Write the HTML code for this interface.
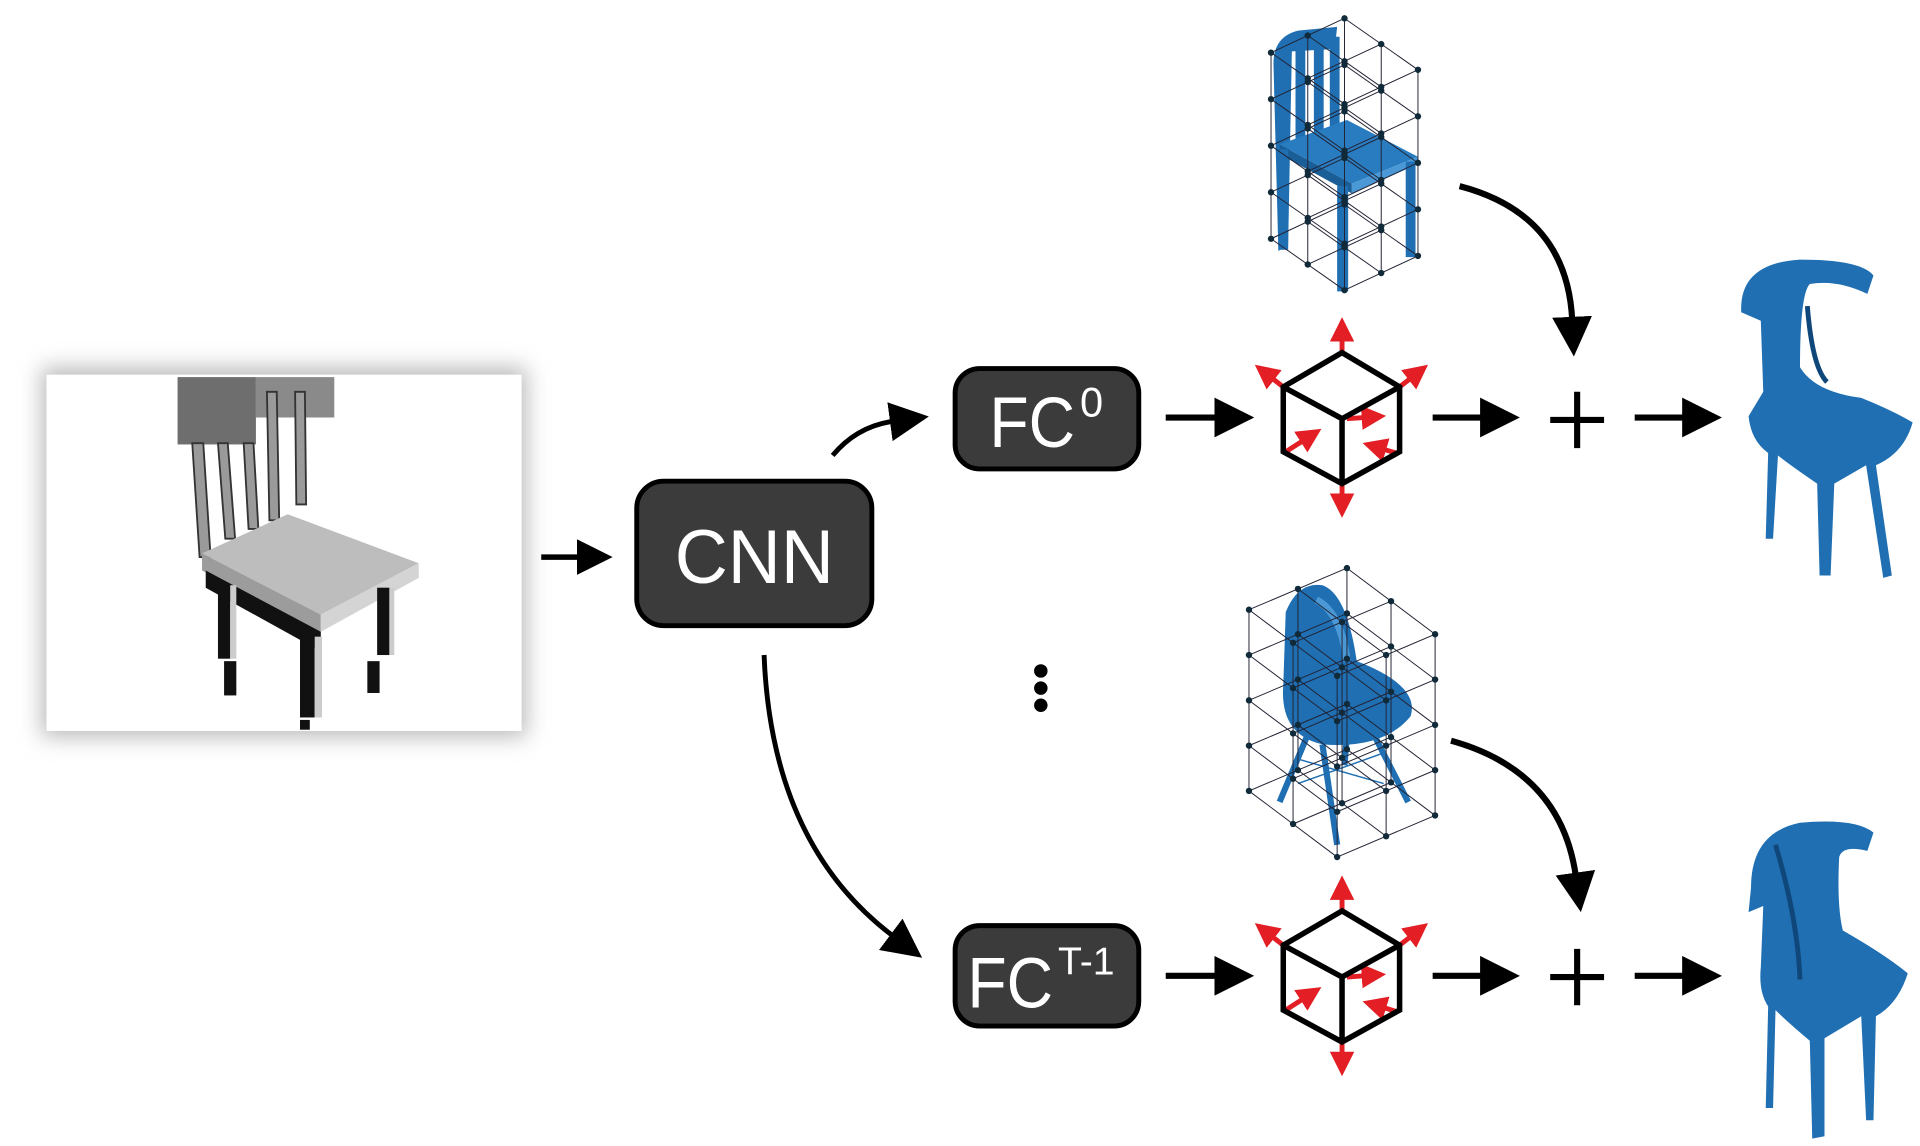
<!DOCTYPE html>
<html><head><meta charset="utf-8"><style>
html,body{margin:0;padding:0;background:#fff;}
svg{display:block}
</style></head><body>
<svg width="1920" height="1146" viewBox="0 0 1568 936" preserveAspectRatio="none" xmlns="http://www.w3.org/2000/svg">
<defs>
<filter id="sh" x="-20%" y="-20%" width="140%" height="140%"><feGaussianBlur stdDeviation="9"/></filter>
<marker id="ah" viewBox="0 0 10 10" refX="1" refY="5" markerWidth="6.5" markerHeight="6.5" orient="auto" markerUnits="strokeWidth"><path d="M0,0L10,5L0,10z" fill="#000"/></marker>
<marker id="ah2" viewBox="0 0 10 10" refX="1" refY="5" markerWidth="8" markerHeight="8" orient="auto" markerUnits="strokeWidth"><path d="M0,0L10,5L0,10z" fill="#000"/></marker>
<marker id="rh" viewBox="0 0 10 10" refX="1" refY="5" markerWidth="5" markerHeight="5" orient="auto" markerUnits="strokeWidth"><path d="M0,0L10,5L0,10z" fill="#e31e24"/></marker>
<g id="cube">
<g stroke="#e31e24" stroke-width="4" fill="none" marker-end="url(#rh)">
<path d="M0,-53 L0,-64"/>
<path d="M-48,-25 L-57,-32"/>
<path d="M47,-25 L56,-32"/>
<path d="M0,54 L0,64"/>
<path d="M4,1 L18,0"/>
<path d="M-46,28 L-32,19"/>
<path d="M44,29 L34,26"/>
</g>
<g stroke="#000" stroke-width="4.5" fill="none" stroke-linejoin="miter">
<path d="M0,-53 L47,-25 L47,28 L0,54 L-48,28 L-48,-25 Z"/>
<path d="M-48,-25 L0,1 L47,-25 M0,1 L0,54"/>
</g>
</g>
</defs>

<!-- photo -->
<rect x="34" y="300" width="396" height="302" fill="#bbb" filter="url(#sh)"/>
<rect x="38" y="306" width="388" height="291" fill="#fff"/>
<g>
<rect x="145" y="308" width="64" height="55" fill="#6e6e6e"/>
<rect x="209" y="308" width="64" height="33" fill="#8a8a8a"/>
<g fill="#9a9a9a" stroke="#333" stroke-width="1.5">
<path d="M157,362 L166,362 L172,455 L163,455Z"/>
<path d="M178,362 L186,362 L192,440 L184,440Z"/>
<path d="M199,362 L207,362 L211,432 L203,432Z"/>
<path d="M218,320 L226,320 L228,425 L220,425Z"/>
<path d="M241,320 L249,320 L250,412 L242,412Z"/>
</g>
<path d="M165,452 L235,420 L342,460 L262,502Z" fill="#bdbdbd"/>
<path d="M165,452 L262,502 L262,516 L165,466Z" fill="#9c9c9c"/>
<path d="M262,502 L342,460 L342,472 L262,516Z" fill="#d4d4d4"/>
<path d="M168,466 L262,516 L262,532 L168,480Z" fill="#111"/>
<g fill="#111">
<rect x="178" y="478" width="10" height="60"/>
<rect x="183" y="540" width="10" height="28"/>
<rect x="245" y="520" width="12" height="66"/>
<rect x="245" y="588" width="8" height="8"/>
<rect x="308" y="480" width="10" height="55"/>
<rect x="300" y="540" width="10" height="26"/>
</g>
<g fill="#ccc">
<rect x="188" y="478" width="5" height="60"/>
<rect x="257" y="520" width="6" height="66"/>
<rect x="318" y="480" width="4" height="55"/>
</g>
</g>

<!-- arrow photo->CNN -->
<path d="M442,455 L474,455" stroke="#000" stroke-width="4.5" marker-end="url(#ah)"/>

<!-- CNN -->
<rect x="520" y="393" width="192" height="118" rx="22" fill="#3b3b3b" stroke="#000" stroke-width="4"/>
<text x="616" y="476" font-family="Liberation Sans, sans-serif" font-size="62" fill="#fff" text-anchor="middle" textLength="130" lengthAdjust="spacingAndGlyphs">CNN</text>

<!-- FC0 -->
<rect x="780" y="301" width="150" height="82" rx="20" fill="#3b3b3b" stroke="#000" stroke-width="4"/>
<text x="808" y="365" font-family="Liberation Sans, sans-serif" font-size="58" fill="#fff" textLength="70" lengthAdjust="spacingAndGlyphs">FC</text>
<text x="882" y="340" font-family="Liberation Sans, sans-serif" font-size="34" fill="#fff">0</text>
<!-- FCT-1 -->
<rect x="780" y="756" width="150" height="82" rx="20" fill="#3b3b3b" stroke="#000" stroke-width="4"/>
<text x="790" y="823" font-family="Liberation Sans, sans-serif" font-size="58" fill="#fff" textLength="70" lengthAdjust="spacingAndGlyphs">FC</text>
<text x="864" y="796" font-family="Liberation Sans, sans-serif" font-size="32" fill="#fff">T-1</text>

<!-- curves from CNN -->
<path d="M680,372 Q700,348 730,344" stroke="#000" stroke-width="4" fill="none" marker-end="url(#ah2)"/>
<path d="M624,535 Q630,690 730,765" stroke="#000" stroke-width="4" fill="none" marker-end="url(#ah2)"/>

<!-- dots -->
<circle cx="850" cy="548" r="5.5" fill="#000"/><circle cx="850" cy="562" r="5.5" fill="#000"/><circle cx="850" cy="576" r="5.5" fill="#000"/>

<!-- row arrows -->
<g stroke="#000" stroke-width="5" fill="none" marker-end="url(#ah)">
<path d="M952,341 L995,341"/><path d="M1170,341 L1212,341"/><path d="M1335,341 L1377,341"/>
<path d="M952,797 L995,797"/><path d="M1170,797 L1212,797"/><path d="M1335,797 L1377,797"/>
<path d="M1192,152 Q1280,175 1284,262"/>
<path d="M1185,605 Q1275,630 1287,716"/>
</g>
<!-- plus -->
<g stroke="#000" stroke-width="5"><path d="M1266,343 H1310 M1288,320 V366"/><path d="M1266,798 H1310 M1288,775 V821"/></g>

<use href="#cube" x="1096" y="341"/>
<use href="#cube" x="1096" y="797"/>

<!-- top grid chair -->
<g>
<path d="M1040,52 Q1040,30 1060,25 L1092,22 L1090,40 L1055,42 L1052,200 L1044,205 Z" fill="#1f6fb2"/>
<rect x="1058" y="40" width="8" height="85" fill="#1f6fb2"/>
<rect x="1073" y="35" width="8" height="85" fill="#1f6fb2"/>
<rect x="1086" y="30" width="8" height="85" fill="#1f6fb2"/>
<path d="M1045,118 L1100,98 L1158,128 L1104,150 Z" fill="#2a7cc0"/>
<path d="M1045,118 L1104,150 L1104,158 L1045,126 Z" fill="#1a5e98"/>
<path d="M1104,150 L1158,128 L1158,134 L1104,158 Z" fill="#4a98d6"/>
<rect x="1092" y="152" width="9" height="86" fill="#1f6fb2"/>
<rect x="1148" y="132" width="8" height="78" fill="#1f6fb2"/>
<rect x="1044" y="122" width="8" height="82" fill="#1f6fb2"/>
</g>
<g id="g1" stroke="#223" stroke-width="0.8" fill="none"></g>
<!-- bottom grid chair -->
<g>
<path d="M1050,500 Q1060,475 1080,478 Q1100,485 1108,540 Q1160,560 1152,585 Q1130,612 1080,608 Q1045,600 1048,560 Z" fill="#1f6fb2"/>
<path d="M1075,490 Q1095,500 1100,540" stroke="#4a98d6" stroke-width="6" fill="none"/>
<g stroke="#1f6fb2" stroke-width="5">
<path d="M1068,600 L1045,655"/><path d="M1080,608 L1092,690"/><path d="M1122,600 L1150,655"/><path d="M1100,600 L1098,625"/>
</g>
<g stroke="#1f6fb2" stroke-width="1.2"><path d="M1060,620 L1130,640 M1060,640 L1130,615"/></g>
</g>
<g id="g2" stroke="#223" stroke-width="0.8" fill="none"></g>

<!-- output chairs -->
<g fill="#1f6fb2">
<path d="M1422,255 Q1420,215 1470,212 Q1520,212 1530,225 L1525,240 Q1500,228 1478,232 Q1470,240 1470,300 Q1482,320 1520,325 Q1545,335 1562,345 Q1555,370 1532,380 L1545,470 L1538,472 L1524,380 L1498,395 L1495,470 L1486,470 L1484,395 Q1462,380 1452,372 L1448,440 L1442,440 L1444,370 Q1430,360 1428,340 L1440,320 L1438,262 Z"/>
<path d="M1430,725 Q1430,680 1470,672 Q1515,668 1530,680 L1525,695 Q1505,690 1502,700 Q1500,740 1505,760 Q1540,780 1558,795 Q1550,820 1532,830 L1530,915 L1524,915 L1520,830 L1490,848 L1490,928 L1480,930 L1478,850 Q1460,835 1450,825 L1448,905 L1442,905 L1444,822 Q1436,810 1438,790 L1440,740 L1428,745 Z"/>
</g>
<path d="M1476,250 Q1480,300 1492,312" stroke="#10477a" stroke-width="4" fill="none"/>
<path d="M1450,690 Q1468,750 1470,800" stroke="#10477a" stroke-width="4" fill="none"/>
</svg>
<script>
function grid(id,T,a,b,c,ni,nj,nk){
 var g=document.getElementById(id),ns="http://www.w3.org/2000/svg",d="";
 function P(i,j,k){return [T[0]+i*a[0]+j*b[0]+k*c[0],T[1]+i*a[1]+j*b[1]+k*c[1]];}
 for(var i=0;i<=ni;i++)for(var j=0;j<=nj;j++){var p=P(i,j,0),q=P(i,j,nk);d+="M"+p+"L"+q;}
 for(var k=0;k<=nk;k++){for(var j=0;j<=nj;j++){var p=P(0,j,k),q=P(ni,j,k);d+="M"+p+"L"+q;}
  for(var i=0;i<=ni;i++){var p=P(i,0,k),q=P(i,nj,k);d+="M"+p+"L"+q;}}
 var pa=document.createElementNS(ns,"path");pa.setAttribute("d",d);g.appendChild(pa);
 for(var i=0;i<=ni;i++)for(var j=0;j<=nj;j++)for(var k=0;k<=nk;k++){
  var p=P(i,j,k),ci=document.createElementNS(ns,"circle");
  ci.setAttribute("cx",p[0]);ci.setAttribute("cy",p[1]);ci.setAttribute("r",2.6);ci.setAttribute("fill","#102a3a");ci.setAttribute("stroke","none");g.appendChild(ci);}
}
grid("g1",[1098,15],[30,21],[-30,14],[0,38],2,2,4);
grid("g2",[1100,464],[36,27],[-40,17],[0,37],2,2,4);
</script>
</body></html>
